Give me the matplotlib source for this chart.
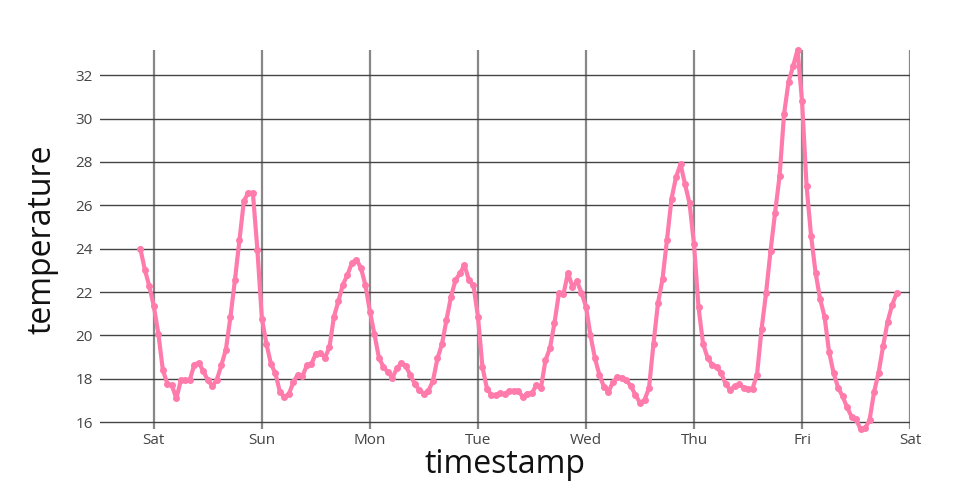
import matplotlib
matplotlib.use("Agg")
import matplotlib.pyplot as plt
import matplotlib.dates as mdates
import pandas as pd

# hourly readings, Fri 21:00 -> next Fri 21:00
start = "2023-06-02 21:00"
temperature = [
    24.0, 23.03, 22.26,
    21.34, 20.08, 18.4, 17.78, 17.7, 17.1, 17.94, 17.94, 17.97, 18.66, 18.74, 18.35,
    17.94, 17.66, 17.97, 18.63, 19.35, 20.83, 22.54, 24.38, 26.2, 26.58, 26.57, 23.95,
    20.78, 19.63, 18.7, 18.25, 17.4, 17.17, 17.3, 17.86, 18.2, 18.12, 18.63, 18.68,
    19.17, 19.2, 18.98, 19.45, 20.86, 21.58, 22.35, 22.78, 23.35, 23.5, 23.12, 22.32,
    21.1, 20.06, 18.98, 18.55, 18.3, 18.06, 18.48, 18.74, 18.58, 18.17, 17.75, 17.48,
    17.32, 17.45, 17.91, 18.94, 19.6, 20.71, 21.78, 22.55, 22.86, 23.25, 22.55, 22.32,
    20.86, 18.55, 17.55, 17.25, 17.25, 17.35, 17.3, 17.45, 17.45, 17.45, 17.15, 17.32,
    17.35, 17.72, 17.58, 18.86, 19.42, 20.58, 21.97, 21.92, 22.88, 22.25, 22.49, 21.97,
    21.33, 20.0, 18.94, 18.17, 17.63, 17.4, 17.86, 18.08, 18.05, 17.93, 17.66, 17.25,
    16.9, 17.02, 17.58, 19.63, 21.5, 22.6, 24.42, 26.3, 27.3, 27.9, 26.97, 26.1,
    24.2, 21.3, 19.63, 18.98, 18.66, 18.55, 18.28, 17.78, 17.5, 17.66, 17.75, 17.6,
    17.54, 17.55, 18.2, 20.28, 21.95, 23.9, 25.65, 27.34, 30.2, 31.7, 32.4, 33.17,
    30.8, 26.9, 24.6, 22.9, 21.7, 20.86, 19.25, 18.28, 17.6, 17.2, 16.69, 16.26,
    16.14, 15.68, 15.72, 16.1, 17.4, 18.28, 19.5, 20.63, 21.4, 21.94,
]
timestamps = pd.date_range(start, periods=len(temperature), freq="h")
y_ticks = [16, 18, 20, 22, 24, 26, 28, 30, 32]

plt.rcParams["font.family"] = ["Open Sans", "DejaVu Sans"]

fig = plt.figure(figsize=(9.6, 5.0), dpi=100)
ax = fig.add_axes([0.104, 0.142, 0.844, 0.758])

pink = "#ff7bac"
ax.plot(timestamps, temperature, color=pink, linewidth=3, marker="o",
        markersize=4, clip_on=False, zorder=3)

ax.set_xlim(pd.Timestamp("2023-06-02 12:00"), pd.Timestamp("2023-06-10 00:00"))
ax.set_ylim(15.69, 33.16)
ax.set_yticks(y_ticks)

ax.xaxis.set_major_locator(mdates.DayLocator())
ax.xaxis.set_major_formatter(mdates.DateFormatter("%a"))

ax.grid(axis="y", color="#444444", linewidth=1)
ax.grid(axis="x", color="#888888", linewidth=1.6)
ax.set_axisbelow(True)
for s in ax.spines.values():
    s.set_visible(False)

ax.tick_params(axis="both", length=0, labelsize=11, colors="#444444")
ax.tick_params(axis="y", pad=5)
ax.tick_params(axis="x", pad=3)

ax.set_xlabel("timestamp", fontsize=23, color="#111111", labelpad=0)
ax.set_ylabel("temperature", fontsize=23, color="#111111", labelpad=12)

fig.savefig("out.png", dpi=100)
